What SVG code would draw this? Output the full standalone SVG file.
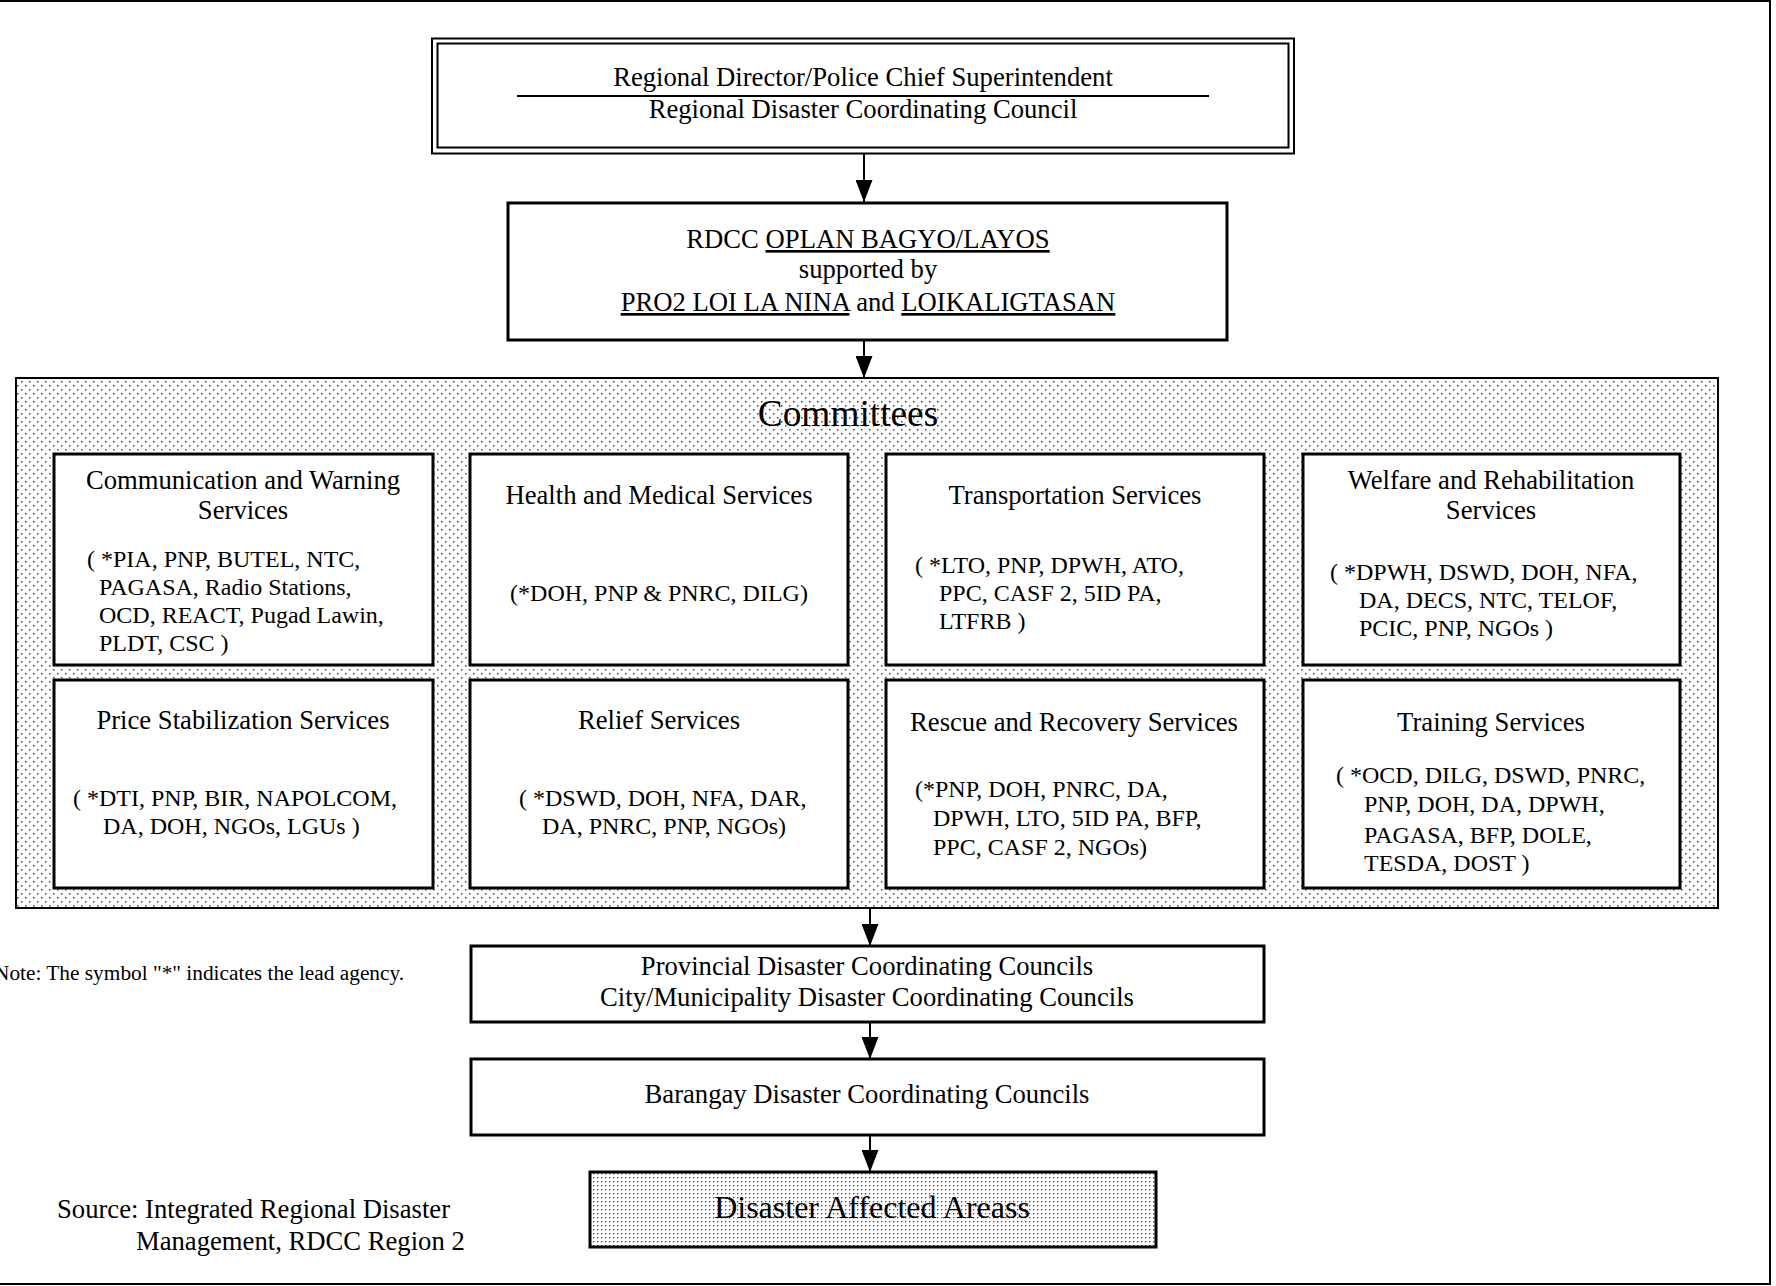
<svg xmlns="http://www.w3.org/2000/svg" width="1776" height="1286" viewBox="0 0 1776 1286">
<defs>
<style>
.t { font-family: "Liberation Serif", "Times New Roman", serif; font-size: 26.67px; fill: #000; }
.s { font-size: 24px; }
.c { text-anchor: middle; }
.box { fill: #fff; stroke: #000; stroke-width: 3; }
.ln { stroke: #000; stroke-width: 2; fill: none; }
.u { text-decoration: underline; }
</style>
<pattern id="dots" width="8" height="8" patternUnits="userSpaceOnUse">
<rect width="8" height="8" fill="#fff"/>
<rect x="1" y="1" width="1.5" height="1.5" fill="#444"/>
<rect x="5" y="5" width="1.5" height="1.5" fill="#444"/>
</pattern>
<pattern id="dots2" width="4" height="4" patternUnits="userSpaceOnUse">
<rect width="4" height="4" fill="#fff"/>
<rect x="1" y="1" width="1.3" height="1.3" fill="#444"/>
</pattern>
<marker id="ah" viewBox="0 0 22 17" markerWidth="22" markerHeight="17" refX="22" refY="8.5" orient="auto" markerUnits="userSpaceOnUse">
<path d="M0,0 L22,8.5 L0,17 z" fill="#000"/>
</marker>
</defs>
<rect width="1776" height="1286" fill="#fff"/>
<g id="frame">
<line class="ln" x1="0" y1="1" x2="1771" y2="1"/>
<line class="ln" x1="1770" y1="0" x2="1770" y2="1285"/>
<line class="ln" x1="0" y1="1284" x2="1771" y2="1284"/>
</g>

<g id="connectors">
<line class="ln" x1="864" y1="153" x2="864" y2="202" marker-end="url(#ah)"/>
<line class="ln" x1="864" y1="341" x2="864" y2="378" marker-end="url(#ah)"/>
<line class="ln" x1="870" y1="908" x2="870" y2="946" marker-end="url(#ah)"/>
<line class="ln" x1="870" y1="1022" x2="870" y2="1059" marker-end="url(#ah)"/>
<line class="ln" x1="870" y1="1135" x2="870" y2="1172" marker-end="url(#ah)"/>
</g>

<g id="regional-director">
<rect x="432" y="38.5" width="862" height="115" fill="#fff" stroke="#000" stroke-width="2"/>
<rect x="437.5" y="43.5" width="851" height="104" fill="none" stroke="#000" stroke-width="2"/>
<line class="ln" x1="517" y1="96" x2="1209" y2="96"/>
<text class="t c" x="863" y="86">Regional Director/Police Chief Superintendent</text>
<text class="t c" x="863" y="118">Regional Disaster Coordinating Council</text>
</g>

<g id="oplan">
<rect class="box" x="508" y="203" width="719" height="137"/>
<text class="t c" x="868" y="248">RDCC <tspan class="u">OPLAN BAGYO/LAYOS</tspan></text>
<text class="t c" x="868" y="278">supported by</text>
<text class="t c" x="868" y="311"><tspan class="u">PRO2 LOI LA NINA</tspan> and <tspan class="u">LOIKALIGTASAN</tspan></text>
</g>

<g id="committees">
<rect x="16" y="378" width="1702" height="530" fill="url(#dots)" stroke="#000" stroke-width="2"/>
<text class="t c" x="848" y="426" style="font-size:37.33px">Committees</text>
</g>

<g id="communication">
<rect class="box" x="54" y="454" width="379" height="211"/>
<text class="t c" x="243" y="489">Communication and Warning</text>
<text class="t c" x="243" y="519">Services</text>
<text class="t s" x="87" y="567">( *PIA, PNP, BUTEL, NTC,</text>
<text class="t s" x="99" y="595">PAGASA, Radio Stations,</text>
<text class="t s" x="99" y="623">OCD, REACT, Pugad Lawin,</text>
<text class="t s" x="99" y="651">PLDT, CSC )</text>
</g>

<g id="health">
<rect class="box" x="470" y="454" width="378" height="211"/>
<text class="t c" x="659" y="504">Health and Medical Services</text>
<text class="t s c" x="659" y="601">(*DOH, PNP &amp; PNRC, DILG)</text>
</g>

<g id="transportation">
<rect class="box" x="886" y="454" width="378" height="211"/>
<text class="t c" x="1075" y="504">Transportation Services</text>
<text class="t s" x="915" y="573">( *LTO, PNP, DPWH, ATO,</text>
<text class="t s" x="939" y="601">PPC, CASF 2, 5ID PA,</text>
<text class="t s" x="939" y="629">LTFRB )</text>
</g>

<g id="welfare">
<rect class="box" x="1303" y="454" width="377" height="211"/>
<text class="t c" x="1491" y="489">Welfare and Rehabilitation</text>
<text class="t c" x="1491" y="519">Services</text>
<text class="t s" x="1330" y="580">( *DPWH, DSWD, DOH, NFA,</text>
<text class="t s" x="1359" y="608">DA, DECS, NTC, TELOF,</text>
<text class="t s" x="1359" y="636">PCIC, PNP, NGOs )</text>
</g>

<g id="price">
<rect class="box" x="54" y="680" width="379" height="208"/>
<text class="t c" x="243" y="729">Price Stabilization Services</text>
<text class="t s" x="73" y="806">( *DTI, PNP, BIR, NAPOLCOM,</text>
<text class="t s" x="103" y="834">DA, DOH, NGOs, LGUs )</text>
</g>

<g id="relief">
<rect class="box" x="470" y="680" width="378" height="208"/>
<text class="t c" x="659" y="729">Relief Services</text>
<text class="t s" x="519" y="806">( *DSWD, DOH, NFA, DAR,</text>
<text class="t s" x="542" y="834">DA, PNRC, PNP, NGOs)</text>
</g>

<g id="rescue">
<rect class="box" x="886" y="680" width="378" height="208"/>
<text class="t c" x="1074" y="731">Rescue and Recovery Services</text>
<text class="t s" x="915" y="797">(*PNP, DOH, PNRC, DA,</text>
<text class="t s" x="933" y="826">DPWH, LTO, 5ID PA, BFP,</text>
<text class="t s" x="933" y="855">PPC, CASF 2, NGOs)</text>
</g>

<g id="training">
<rect class="box" x="1303" y="680" width="377" height="208"/>
<text class="t c" x="1491" y="731">Training Services</text>
<text class="t s" x="1336" y="783">( *OCD, DILG, DSWD, PNRC,</text>
<text class="t s" x="1364" y="812">PNP, DOH, DA, DPWH,</text>
<text class="t s" x="1364" y="843">PAGASA, BFP, DOLE,</text>
<text class="t s" x="1364" y="871">TESDA, DOST )</text>
</g>

<g id="note">
<text class="t" x="-6" y="980" style="font-size:21.33px">Note: The symbol "*" indicates the lead agency.</text>
</g>

<g id="provincial">
<rect class="box" x="471" y="946" width="793" height="76"/>
<text class="t c" x="867" y="975">Provincial Disaster Coordinating Councils</text>
<text class="t c" x="867" y="1006">City/Municipality Disaster Coordinating Councils</text>
</g>

<g id="barangay">
<rect class="box" x="471" y="1059" width="793" height="76"/>
<text class="t c" x="867" y="1103">Barangay Disaster Coordinating Councils</text>
</g>

<g id="affected">
<rect x="590" y="1172" width="566" height="75" fill="url(#dots2)" stroke="#000" stroke-width="3"/>
<text class="t c" x="872" y="1218" style="font-size:32px">Disaster Affected Areass</text>
</g>

<g id="source">
<text class="t" x="57" y="1218">Source: Integrated Regional Disaster</text>
<text class="t" x="136" y="1250">Management, RDCC Region 2</text>
</g>
</svg>
